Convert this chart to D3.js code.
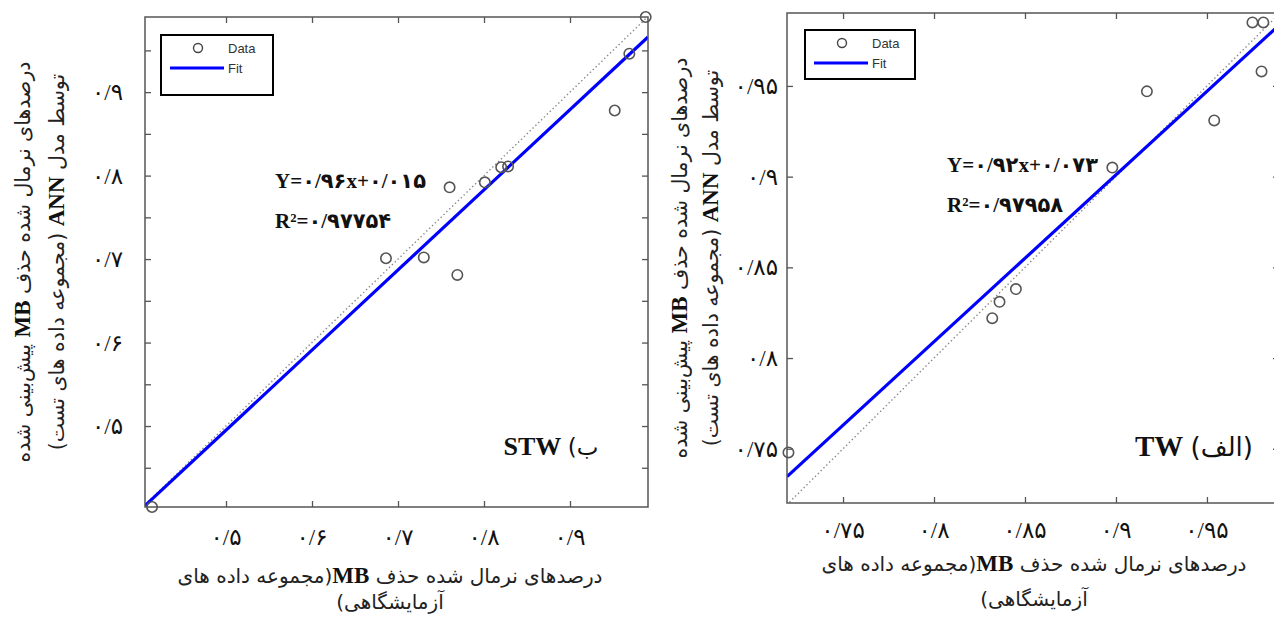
<!DOCTYPE html>
<html><head><meta charset="utf-8">
<script src="https://cdn.jsdelivr.net/npm/d3@7"></script>
<style>
html,body{margin:0;padding:0;background:#fff;}
svg{display:block;}
</style></head>
<body>
<svg id="c" width="1274" height="621"></svg>
<script>
// ---------- data ----------
const stwX = [0.414,0.686,0.730,0.769,0.760,0.801,0.820,0.828,0.952,0.969,0.988];
const stwY = [0.403,0.701,0.702,0.681,0.786,0.792,0.810,0.811,0.878,0.946,0.990];
const stwFit = [0.96, 0.015];
const stwXTicks = [0.5,0.6,0.7,0.8,0.9];
const stwXLabels = ["۰/۵","۰/۶","۰/۷","۰/۸","۰/۹"];
const stwYTicks = [0.45,0.5,0.55,0.6,0.65,0.7,0.75,0.8,0.85,0.9,0.95];
const stwYLabelVals = [0.5,0.6,0.7,0.8,0.9];
const stwYLabels = ["۰/۵","۰/۶","۰/۷","۰/۸","۰/۹"];
const stwEq = ["Y=۰/۹۶x+۰/۰۱۵","۰/۹۷۷۵۴"];

const twX = [0.720,0.832,0.836,0.845,0.898,0.917,0.954,0.975,0.981,0.980];
const twY = [0.748,0.822,0.831,0.838,0.905,0.947,0.931,0.985,0.985,0.958];
const twFit = [0.92, 0.073];
const twXTicks = [0.75,0.8,0.85,0.9,0.95];
const twXLabels = ["۰/۷۵","۰/۸","۰/۸۵","۰/۹","۰/۹۵"];
const twYTicks = [0.75,0.8,0.85,0.9,0.95];
const twYLabelVals = [0.75,0.8,0.85,0.9,0.95];
const twYLabels = ["۰/۷۵","۰/۸","۰/۸۵","۰/۹","۰/۹۵"];
const twEq = ["Y=۰/۹۲x+۰/۰۷۳","۰/۹۷۹۵۸"];

const xTitle1 = "درصدهای نرمال شده حذف ";
const xTitle1b = "(مجموعه داده های";
const xTitle2 = "آزمایشگاهی)";
const yTitle1a = "درصدهای نرمال شده حذف ";
const yTitle1b = " پیش‌بینی شده";
const yTitle2a = "توسط مدل ";
const yTitle2b = " (مجموعه داده های تست)";

const svg = d3.select("#c");
const FA = "'DejaVu Sans', sans-serif";
const SERIF = "'Liberation Serif', 'DejaVu Sans', serif";

function panel(o){
  const x = d3.scaleLinear().domain(o.xd).range([o.x0,o.x1]);
  const y = d3.scaleLinear().domain(o.yd).range([o.y1,o.y0]);
  const g = svg.append("g");
  const cid = "clip"+o.id;
  svg.append("clipPath").attr("id",cid).append("rect")
    .attr("x",o.x0).attr("y",o.y0).attr("width",o.x1-o.x0).attr("height",o.y1-o.y0);

  // ticks (inward)
  const tk = 6;
  const ax = [
    d3.axisBottom(x).tickValues(o.xt).tickSize(-tk).tickFormat(""),
    d3.axisTop(x).tickValues(o.xt).tickSize(-tk).tickFormat(""),
    d3.axisLeft(y).tickValues(o.yt).tickSize(-tk).tickFormat(""),
    d3.axisRight(y).tickValues(o.yt).tickSize(-tk).tickFormat("")
  ];
  const tr = [`translate(0,${o.y1})`,`translate(0,${o.y0})`,`translate(${o.x0},0)`,`translate(${o.x1},0)`];
  ax.forEach((a,i)=>{
    const ag = g.append("g").attr("transform",tr[i]).call(a);
    ag.select(".domain").remove();
    ag.selectAll("line").attr("stroke","#555").attr("stroke-width",1.3);
  });

  // identity dotted line
  g.append("line").attr("clip-path",`url(#${cid})`)
    .attr("x1",x(o.xd[0]-0.05)).attr("y1",y(o.xd[0]-0.05))
    .attr("x2",x(o.xd[1]+0.05)).attr("y2",y(o.xd[1]+0.05))
    .attr("stroke","#888").attr("stroke-width",1.4).attr("stroke-dasharray","1.4,2.6");

  // fit line
  g.append("line").attr("clip-path",`url(#${cid})`)
    .attr("x1",x(o.xd[0])).attr("y1",y(o.fit[0]*o.xd[0]+o.fit[1]))
    .attr("x2",x(o.xd[1])).attr("y2",y(o.fit[0]*o.xd[1]+o.fit[1]))
    .attr("stroke","#0000ff").attr("stroke-width",3.2);

  // frame
  g.append("rect").attr("x",o.x0).attr("y",o.y0).attr("width",o.x1-o.x0).attr("height",o.y1-o.y0)
    .attr("fill","none").attr("stroke","#555").attr("stroke-width",1.5);

  // data
  g.selectAll("circle.d").data(o.xs).join("circle").attr("class","d")
    .attr("cx",(d)=>x(d)).attr("cy",(d,i)=>y(o.ys[i])).attr("r",5.2)
    .attr("fill","none").attr("stroke","#555").attr("stroke-width",1.6);

  // tick labels
  g.selectAll("text.xl").data(o.xt).join("text").attr("class","xl")
    .attr("x",d=>x(d)).attr("y",o.y1+o.xlOff).attr("text-anchor","middle")
    .attr("font-family",SERIF).attr("font-size",23).attr("fill","#111")
    .text((d,i)=>o.xl[i]);
  g.selectAll("text.yl").data(o.ylv).join("text").attr("class","yl")
    .attr("x",o.x0-o.ylOff).attr("y",d=>y(d)+8).attr("text-anchor","end")
    .attr("font-family",SERIF).attr("font-size",23).attr("fill","#111")
    .text((d,i)=>o.yl[i]);

  // legend
  const L = o.leg;
  g.append("rect").attr("x",L[0]).attr("y",L[1]).attr("width",L[2]).attr("height",L[3])
    .attr("fill","#fff").attr("stroke","#000").attr("stroke-width",2);
  g.append("circle").attr("cx",L[0]+37).attr("cy",L[1]+13).attr("r",4.5)
    .attr("fill","none").attr("stroke","#444").attr("stroke-width",1.4);
  g.append("line").attr("x1",L[0]+9).attr("x2",L[0]+63).attr("y1",L[1]+33).attr("y2",L[1]+33)
    .attr("stroke","#0000ff").attr("stroke-width",3.2);
  g.append("text").attr("x",L[0]+67).attr("y",L[1]+18).text("Data")
    .attr("font-family","'Liberation Sans', Arial, sans-serif").attr("font-size",13).attr("fill","#333");
  g.append("text").attr("x",L[0]+67).attr("y",L[1]+38).text("Fit")
    .attr("font-family","'Liberation Sans', Arial, sans-serif").attr("font-size",13).attr("fill","#333");

  // equations
  g.append("text").attr("x",o.eq[0]).attr("y",o.eq[1]).text(o.eqt[0])
    .attr("font-family",SERIF).attr("font-weight","bold").attr("font-size",21).attr("fill","#111");
  const r2 = g.append("text").attr("x",o.eq[0]).attr("y",o.eq[1]+40)
    .attr("font-family",SERIF).attr("font-weight","bold").attr("font-size",21).attr("fill","#111");
  r2.append("tspan").text("R²=");
  r2.append("tspan").text(o.eqt[1]);

  // panel label
  const pl = g.append("text").attr("x",o.pl[0]).attr("y",o.pl[1]).attr("direction","rtl")
    .attr("text-anchor","middle").attr("fill","#111");
  pl.append("tspan").attr("font-family",FA).attr("font-size",o.plSize-3).text(o.plFa);
  pl.append("tspan").attr("font-family",SERIF).attr("font-weight","bold").attr("font-size",o.plSize).text(" "+o.plEn);

  // x title
  const xt1 = g.append("text").attr("x",o.xtc).attr("y",o.xty).attr("direction","rtl")
    .attr("text-anchor","middle").attr("font-family",FA).attr("font-size",20).attr("fill","#222");
  xt1.append("tspan").text(xTitle1);
  xt1.append("tspan").attr("font-family",SERIF).attr("font-weight","bold").attr("font-size",23).attr("fill","#111").text("MB");
  xt1.append("tspan").text(xTitle1b);
  g.append("text").attr("x",o.xtc).attr("y",o.xty2).attr("direction","rtl")
    .attr("text-anchor","middle").attr("font-family",FA).attr("font-size",20).attr("fill","#222").text(xTitle2);

  // y title (rotated)
  const yt = [[o.yt1x,yTitle1a,"MB",yTitle1b],[o.yt2x,yTitle2a,"ANN",yTitle2b]];
  yt.forEach(r=>{
    const t = g.append("text").attr("transform",`translate(${r[0]},${o.ytc}) rotate(-90)`)
      .attr("direction","rtl").attr("text-anchor","middle")
      .attr("font-family",FA).attr("font-size",20.5).attr("fill","#222");
    t.append("tspan").text(r[1]);
    t.append("tspan").attr("font-family",SERIF).attr("font-weight","bold").attr("font-size",23).attr("fill","#111").text(r[2]);
    t.append("tspan").text(r[3]);
  });
}

panel({id:"a", x0:145, x1:648, y0:17, y1:507,
  xd:[0.4058,0.9907], yd:[0.403,0.990],
  xs:stwX, ys:stwY, fit:stwFit,
  xt:stwXTicks, xl:stwXLabels, yt:stwYTicks, ylv:stwYLabelVals, yl:stwYLabels,
  xlOff:38, ylOff:22,
  leg:[161,35,112,60], eq:[275,188], eqt:stwEq,
  pl:[551,455], plSize:26, plFa:"ب)", plEn:"STW",
  xtc:390, xty:583, xty2:609, yt1x:30, yt2x:64, ytc:262});

panel({id:"b", x0:787, x1:1279, y0:13, y1:503,
  xd:[0.7192,0.9896], yd:[0.7201,0.9902],
  xs:twX, ys:twY, fit:twFit,
  xt:twXTicks, xl:twXLabels, yt:twYTicks, ylv:twYLabelVals, yl:twYLabels,
  xlOff:35, ylOff:9,
  leg:[805,30,110,49], eq:[947,172], eqt:twEq,
  pl:[1194,456], plSize:29, plFa:"(الف)", plEn:"TW",
  xtc:1034, xty:571, xty2:606, yt1x:687, yt2x:718, ytc:258});
</script>
</body></html>
